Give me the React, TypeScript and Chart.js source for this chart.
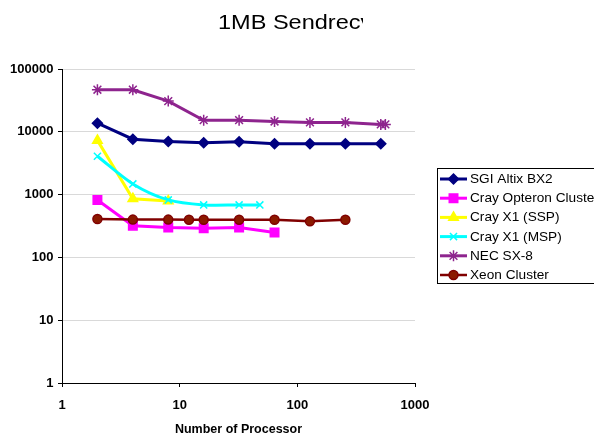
import React, { useEffect, useRef } from 'react';
import { Chart, registerables } from 'chart.js';
import { drawPoint } from 'chart.js/helpers';

Chart.register(...registerables);

const TITLE = '1MB Sendrecv';
const X_TITLE = 'Number of Processor';
const SERIES_NAMES = ['SGI Altix BX2', 'Cray Opteron Cluster', 'Cray X1 (SSP)', 'Cray X1 (MSP)', 'NEC SX-8', 'Xeon Cluster'];

const SGI_X = [2, 4, 8, 16, 32, 64, 128, 256, 512];
const SGI_Y = [13700, 7620, 7000, 6680, 6930, 6440, 6440, 6440, 6440];
const OPTERON_X = [2, 4, 8, 16, 32, 64];
const OPTERON_Y = [820, 320, 300, 290, 300, 250];
const SSP_X = [2, 4, 8];
const SSP_Y = [7300, 860, 790];
const MSP_X = [2, 4, 8, 16, 32, 48];
const MSP_Y = [4080, 1480, 823, 685, 685, 685];
const NEC_X = [2, 4, 8, 16, 32, 64, 128, 256, 512, 560];
const NEC_Y = [46800, 46800, 30800, 15300, 15300, 14600, 14100, 14100, 13100, 13100];
const XEON_X = [2, 4, 8, 12, 16, 32, 64, 128, 256];
const XEON_Y = [410, 400, 400, 397, 397, 397, 397, 375, 397];

const X_TICKS = [1, 10, 100, 1000];
const Y_TICKS = [1, 10, 100, 1000, 10000, 100000];

const SERIES_X = [SGI_X, OPTERON_X, SSP_X, MSP_X, NEC_X, XEON_X];
const SERIES_Y = [SGI_Y, OPTERON_Y, SSP_Y, MSP_Y, NEC_Y, XEON_Y];

const STYLES = [
  { color: '#000080', fill: '#000080', point: 'rectRot', radius: 5, width: 3, tension: 0 },
  { color: '#FF00FF', fill: '#FF00FF', point: 'rect', radius: 6, width: 3, tension: 0 },
  { color: '#FFFF00', fill: '#FFFF00', point: 'triangle', radius: 5.5, width: 3, tension: 0 },
  { color: '#00FFFF', fill: '#00FFFF', point: 'crossRot', radius: 5, width: 3, tension: 0.3 },
  { color: '#8E248E', fill: '#8E248E', point: 'star', radius: 5.5, width: 3, tension: 0 },
  { color: '#800000', fill: '#8B1A00', point: 'circle', radius: 4.5, width: 2.5, tension: 0 },
];

const FONT = '"Liberation Sans", Arial, sans-serif';

const overlayPlugin = {
  id: 'overlay',
  afterDraw(chart: any) {
    const ctx = chart.ctx as CanvasRenderingContext2D;
    ctx.save();
    ctx.beginPath();
    ctx.rect(0, 0, 363, 60);
    ctx.clip();
    ctx.fillStyle = '#000';
    ctx.font = `21px ${FONT}`;
    ctx.textBaseline = 'alphabetic';
    ctx.textAlign = 'left';
    ctx.translate(218, 28.5);
    ctx.scale(1.12, 1);
    ctx.fillText(TITLE, 0, 0);
    ctx.restore();

    ctx.save();
    ctx.strokeStyle = '#000';
    ctx.lineWidth = 1;
    ctx.strokeRect(437.5, 168.5, 200, 115);
    const y0 = 179;
    const step = 19.2;
    SERIES_NAMES.forEach((name, i) => {
      const s = STYLES[i];
      const y = y0 + i * step;
      ctx.strokeStyle = s.color;
      ctx.lineWidth = s.width;
      ctx.beginPath();
      ctx.moveTo(440, y);
      ctx.lineTo(467, y);
      ctx.stroke();
      ctx.fillStyle = s.fill;
      ctx.strokeStyle = s.color;
      ctx.lineWidth = 1.5;
      drawPoint(ctx, { pointStyle: s.point, radius: s.radius, rotation: 0, borderWidth: 1.5 } as any, 453.5, y);
      ctx.fillStyle = '#000';
      ctx.font = `13px ${FONT}`;
      ctx.textBaseline = 'middle';
      ctx.textAlign = 'left';
      ctx.save();
      ctx.translate(470, y + 0.5);
      ctx.scale(1.05, 1);
      ctx.fillText(name, 0, 0);
      ctx.restore();
    });
    ctx.restore();
  },
};

export default function App() {
  const ref = useRef<HTMLCanvasElement>(null);
  useEffect(() => {
    if (!ref.current) return;
    const datasets = SERIES_NAMES.map((name, i) => {
      const s = STYLES[i];
      return {
        label: name,
        data: SERIES_X[i].map((x, j) => ({ x, y: SERIES_Y[i][j] })),
        borderColor: s.color,
        backgroundColor: s.fill,
        borderWidth: s.width,
        pointStyle: s.point,
        pointRadius: s.radius,
        pointBorderWidth: 1.5,
        pointBorderColor: s.color,
        pointBackgroundColor: s.fill,
        tension: s.tension,
        order: SERIES_NAMES.length - i,
      };
    });
    const chart = new Chart(ref.current, {
      type: 'line',
      data: { datasets },
      plugins: [overlayPlugin],
      options: {
        animation: false,
        responsive: false,
        layout: { padding: { top: 69, right: 179, left: 0, bottom: 0 } },
        plugins: { legend: { display: false }, title: { display: false }, tooltip: { enabled: false } },
        scales: {
          x: {
            type: 'logarithmic',
            min: 1,
            max: 1000,
            afterBuildTicks: (scale: any) => {
              scale.ticks = X_TICKS.map((v) => ({ value: v }));
            },
            afterFit: (scale: any) => {
              scale.height = 51;
            },
            ticks: {
              autoSkip: false,
              maxRotation: 0,
              padding: 11,
              color: '#000',
              font: { family: FONT, size: 13, weight: 'bold' },
              callback: (v: any) => String(v),
            },
            grid: { drawOnChartArea: false, drawTicks: true, tickLength: 4, tickColor: '#000' },
            border: { color: '#000', width: 1 },
            title: {
              display: true,
              text: X_TITLE,
              color: '#000',
              font: { family: FONT, size: 12.5, weight: 'bold', lineHeight: 1 },
              padding: { top: 0, bottom: -2 },
            },
          },
          y: {
            type: 'logarithmic',
            min: 1,
            max: 100000,
            afterBuildTicks: (scale: any) => {
              scale.ticks = Y_TICKS.map((v) => ({ value: v }));
            },
            afterFit: (scale: any) => {
              scale.width = 62;
            },
            ticks: {
              autoSkip: false,
              padding: 4.5,
              color: '#000',
              font: { family: FONT, size: 13, weight: 'bold' },
              callback: (v: any) => String(v),
            },
            grid: { color: '#d9d9d9', lineWidth: 1, drawTicks: true, tickLength: 4, tickColor: '#000' },
            border: { color: '#000', width: 1 },
          },
        },
      } as any,
    });
    return () => chart.destroy();
  }, []);
  return (
    <div style={{ position: 'fixed', left: 0, top: 0, width: 594, height: 434, overflow: 'hidden', background: '#fff' }}>
      <canvas ref={ref} width={594} height={434} style={{ display: 'block', width: 594, height: 434 }} />
    </div>
  );
}
